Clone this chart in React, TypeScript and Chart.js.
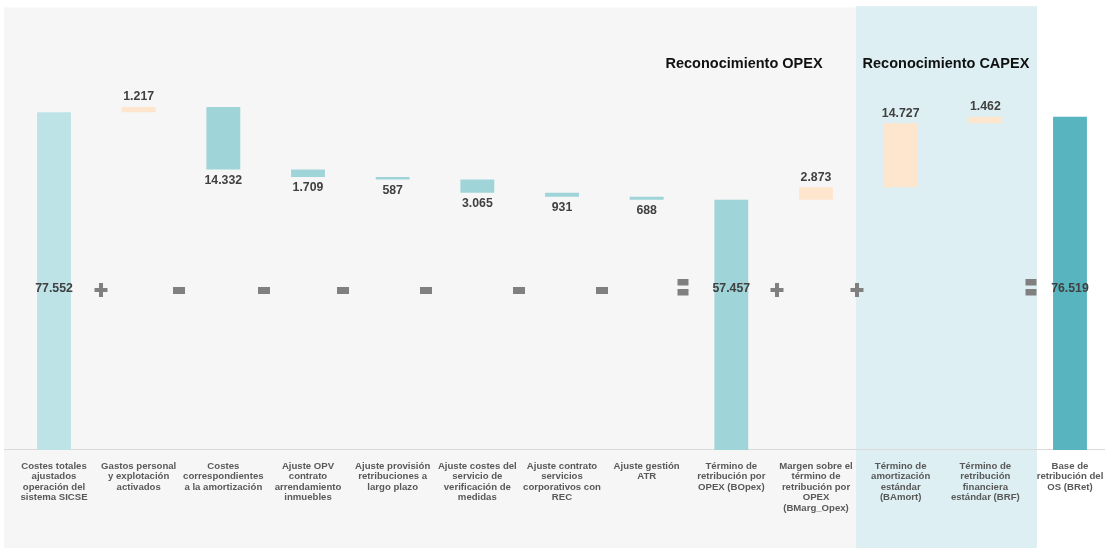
import React, { useEffect, useRef } from "react";
import { Chart, registerables } from "chart.js";

Chart.register(...registerables);

// ---------- DATA ----------
const categories: string[][] = [
  ["Costes totales", "ajustados", "operación del", "sistema SICSE"],
  ["Gastos personal", "y explotación", "activados"],
  ["Costes", "correspondientes", "a la amortización"],
  ["Ajuste OPV", "contrato", "arrendamiento", "inmuebles"],
  ["Ajuste provisión", "retribuciones a", "largo plazo"],
  ["Ajuste costes del", "servicio de", "verificación de", "medidas"],
  ["Ajuste contrato", "servicios", "corporativos con", "REC"],
  ["Ajuste gestión", "ATR"],
  ["Término de", "retribución por", "OPEX (BOpex)"],
  ["Margen sobre el", "término de", "retribución por", "OPEX", "(BMarg_Opex)"],
  ["Término de", "amortización", "estándar", "(BAmort)"],
  ["Término de", "retribución", "financiera", "estándar (BRF)"],
  ["Base de", "retribución del", "OS (BRet)"],
];

const values: number[] = [77552, 1217, -14332, -1709, -587, -3065, -931, -688, 57457, 2873, 14727, 1462, 76519];

const barKinds: string[] = ["start", "up", "down", "down", "down", "down", "down", "down", "subtotal", "up", "up", "up", "total"];

const operators: string[] = ["+", "-", "-", "-", "-", "-", "-", "=", "+", "+", "="];
const operatorSlots: number[] = [0.56, 1.48, 2.48, 3.41, 4.39, 5.49, 6.47, 7.43, 8.54, 9.49, 11.54];

const sectionTitles: string[] = ["Reconocimiento OPEX", "Reconocimiento CAPEX"];
const sectionTitleSlots: number[] = [8.15, 10.535];

const Y_MAX = 100000;
const OPERATOR_LEVEL = 36750;
const TITLE_LEVEL = 88650;

// ---------- STYLE ----------
const FONT = '"Liberation Sans", Arial, Helvetica, sans-serif';
const kindColors: Record<string, string> = {
  start: "#bde3e6",
  down: "#9fd4d9",
  subtotal: "#9fd4d9",
  up: "#fee5cd",
  total: "#58b4be",
};

const fmt = (n: number) => String(Math.abs(n)).replace(/\B(?=(\d{3})+(?!\d))/g, ".");

function buildRanges(): [number, number][] {
  let running = 0;
  return values.map((v, i) => {
    const k = barKinds[i];
    if (k === "start" || k === "subtotal" || k === "total") {
      running = v;
      return [0, v] as [number, number];
    }
    const s = running;
    running += v;
    return [s, running] as [number, number];
  });
}

const decorPlugin = {
  id: "waterfallDecor",
  beforeDraw(chart: any) {
    const { ctx, scales, chartArea } = chart;
    const x = scales.x;
    const y = scales.y;
    const H = chart.height;
    ctx.save();
    // OPEX region (grey)
    const gL = x.getPixelForValue(-0.59);
    const gR = x.getPixelForValue(9.47);
    const gT = y.getPixelForValue(101650);
    ctx.fillStyle = "#f6f6f6";
    ctx.fillRect(gL, gT, gR - gL, H - gT);
    // CAPEX region (light blue)
    const bR = x.getPixelForValue(11.61);
    const bT = y.getPixelForValue(101950);
    ctx.fillStyle = "#ddeff2";
    ctx.fillRect(gR, bT, bR - gR, H - bT);
    // axis line
    ctx.strokeStyle = "#d9d9d9";
    ctx.lineWidth = 1;
    ctx.beginPath();
    ctx.moveTo(gL, chartArea.bottom - 0.5);
    ctx.lineTo(chart.width, chartArea.bottom - 0.5);
    ctx.stroke();
    ctx.restore();
  },
  afterDatasetsDraw(chart: any) {
    const { ctx, scales } = chart;
    const x = scales.x;
    const y = scales.y;
    const meta = chart.getDatasetMeta(0);
    ctx.save();
    ctx.textAlign = "center";
    ctx.textBaseline = "middle";
    ctx.fillStyle = "#404040";
    ctx.font = `bold 12.3px ${FONT}`;
    const opY = y.getPixelForValue(OPERATOR_LEVEL);
    meta.data.forEach((bar: any, i: number) => {
      const k = barKinds[i];
      const top = Math.min(bar.y, bar.base);
      const bottom = Math.max(bar.y, bar.base);
      const txt = fmt(values[i]);
      if (k === "start" || k === "subtotal" || k === "total") {
        ctx.fillText(txt, bar.x, opY - 1);
      } else if (k === "up") {
        ctx.fillText(txt, bar.x, top - 10);
      } else {
        ctx.fillText(txt, bar.x, bottom + 11);
      }
    });
    // operators
    ctx.fillStyle = "#808080";
    operators.forEach((op, i) => {
      const cx = Math.round(x.getPixelForValue(operatorSlots[i]));
      if (op === "+") {
        ctx.fillRect(cx - 6.5, opY - 2, 13, 4);
        ctx.fillRect(cx - 2, opY - 7, 4, 14);
      } else if (op === "-") {
        ctx.fillRect(cx - 6, opY - 3, 12, 7);
      } else if (op === "=") {
        ctx.fillRect(cx - 5.5, opY - 11, 11, 6.5);
        ctx.fillRect(cx - 5.5, opY - 1, 11, 6.5);
      }
    });
    // section titles
    ctx.fillStyle = "#111111";
    ctx.font = `bold 14.5px ${FONT}`;
    const tY = y.getPixelForValue(TITLE_LEVEL);
    sectionTitles.forEach((t, i) => {
      ctx.fillText(t, x.getPixelForValue(sectionTitleSlots[i]), tY);
    });
    ctx.restore();
  },
};

export default function App() {
  const canvasRef = useRef<HTMLCanvasElement | null>(null);

  useEffect(() => {
    const canvas = canvasRef.current;
    if (!canvas) return;
    const ranges = buildRanges();
    const chart = new Chart(canvas, {
      type: "bar",
      data: {
        labels: categories as any,
        datasets: [
          {
            data: ranges as any,
            backgroundColor: barKinds.map((k) => kindColors[k]),
            borderWidth: 0,
            categoryPercentage: 1,
            barPercentage: 0.4,
          },
        ],
      },
      options: {
        responsive: false,
        maintainAspectRatio: false,
        animation: false,
        devicePixelRatio: 1,
        layout: { padding: { left: 11.67, right: 7.67, top: 14.6, bottom: 0 } },
        plugins: {
          legend: { display: false },
          tooltip: { enabled: false },
          title: { display: false },
        },
        scales: {
          x: {
            type: "category",
            offset: true,
            grid: { display: false },
            border: { display: false },
            ticks: {
              autoSkip: false,
              maxRotation: 0,
              minRotation: 0,
              padding: 2.8,
              color: "#595959",
              font: { family: FONT, size: 9.6, weight: "bold", lineHeight: 1.1 },
            },
            afterFit: (scale: any) => {
              scale.height = 98;
            },
          },
          y: {
            display: false,
            min: 0,
            max: Y_MAX,
          },
        },
      },
      plugins: [decorPlugin],
    } as any);
    return () => chart.destroy();
  }, []);

  return (
    <div
      style={{
        position: "absolute",
        left: 0,
        top: 0,
        width: 1105,
        height: 548,
        overflow: "hidden",
        background: "#ffffff",
      }}
    >
      <canvas ref={canvasRef} width={1120} height={548} style={{ display: "block", width: 1120, height: 548 }} />
    </div>
  );
}
